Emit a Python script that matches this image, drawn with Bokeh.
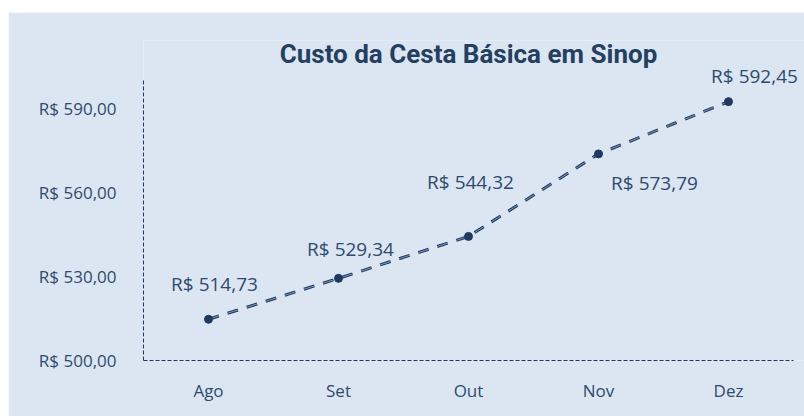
from bokeh.plotting import figure
from bokeh.models import ColumnDataSource, LabelSet, Label, FixedTicker, Range1d, Spacer
from bokeh.layouts import column, row
from bokeh.core.properties import value
from bokeh.embed import file_html
from bokeh.resources import INLINE

months = ["Ago", "Set", "Out", "Nov", "Dez"]
values = [514.73, 529.34, 544.32, 573.79, 592.45]
value_labels = ["R$ 514,73", "R$ 529,34", "R$ 544,32", "R$ 573,79", "R$ 592,45"]
y_ticks = [500, 530, 560, 590]
y_tick_labels = ["R$ 500,00", "R$ 530,00", "R$ 560,00", "R$ 590,00"]
title_text = "Custo da Cesta Básica em Sinop"

# label offsets (screen px)
label_dx = [6, 12, 2, 56, 26]
label_dy = [35, 29, 54, -29, 26]

BG = "#DCE6F2"
TXT = "#2F4A6D"
DARK = "#1F3A5F"

xs = list(range(1, len(months) + 1))

p = figure(width=796, height=404, x_range=Range1d(0.5, 0.5 + 661 / 130),
           y_range=Range1d(500, 500 + 320 / 2.8),
           output_backend="svg", toolbar_location=None,
           min_border_left=135, min_border_right=0, min_border_top=28, min_border_bottom=56)
p.background_fill_color = BG
p.border_fill_color = BG
p.outline_line_color = None
p.xgrid.visible = False
p.ygrid.visible = False

src = ColumnDataSource(dict(x=xs, y=values, lab=value_labels, dx=label_dx, dy=label_dy))
p.line("x", "y", source=src, line_color=DARK, line_width=3, line_dash="11 9")
p.line("x", "y", source=src, line_color="#9DB0C8", line_width=0.8, line_dash="11 9")
p.scatter("x", "y", source=src, size=8, fill_color=DARK, line_color=DARK)

labels = LabelSet(x="x", y="y", text="lab", source=src, x_offset="dx", y_offset="dy",
                  text_align="center", text_baseline="middle", text_font=value("Open Sans"),
                  text_font_size=value("19px"), text_color=TXT)
p.add_layout(labels)

title = Label(x=3, y=609.5, text=title_text,
              text_align="center", text_baseline="middle", text_font="Roboto",
              text_font_size="26px", text_font_style="bold", text_color="#243F60")
p.add_layout(title)

for ax in (p.xaxis[0], p.yaxis[0]):
    ax.axis_line_color = DARK
    ax.axis_line_width = 1
    ax.axis_line_dash = "4 2"
    ax.major_tick_line_color = None
    ax.minor_tick_line_color = None
    ax.major_label_text_color = TXT
    ax.major_label_text_font = "Open Sans"
    ax.major_label_text_font_size = "17px"

p.yaxis.bounds = (500, 600)
p.xaxis.bounds = (0.5, len(months) + 0.5)
p.yaxis.ticker = FixedTicker(ticks=y_ticks)
p.yaxis.major_label_overrides = {t_: l for t_, l in zip(y_ticks, y_tick_labels)}
p.yaxis.major_label_standoff = 21
p.xaxis.ticker = FixedTicker(ticks=xs)
p.xaxis.major_label_overrides = {x_: m for x_, m in zip(xs, months)}
p.xaxis.major_label_standoff = 12

layout = row(Spacer(width=8), column(Spacer(height=12), p, spacing=0), spacing=0)
open("out.html", "w").write(file_html(layout, INLINE))
